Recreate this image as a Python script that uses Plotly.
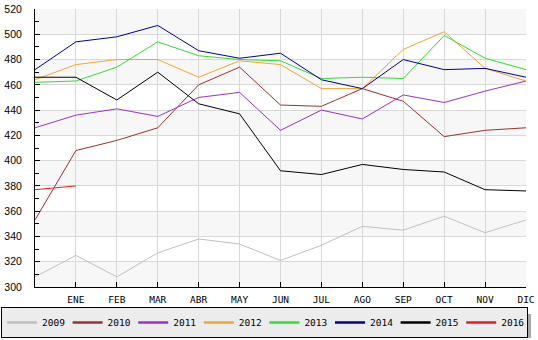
import plotly.graph_objects as go

months = ["", "ENE", "FEB", "MAR", "ABR", "MAY", "JUN", "JUL", "AGO", "SEP", "OCT", "NOV", "DIC"]
years = ["2009", "2010", "2011", "2012", "2013", "2014", "2015", "2016"]

v2009 = [308, 325, 308, 327, 338, 334, 321, 333, 348, 345, 356, 343, 353]
v2010 = [353, 408, 416, 426, 460, 474, 444, 443, 457, 447, 419, 424, 426]
v2011 = [426, 436, 441, 435, 450, 454, 424, 440, 433, 452, 446, 455, 463]
v2012 = [464, 476, 480, 480, 466, 479, 476, 457, 457, 488, 502, 473, 463]
v2013 = [462, 463, 474, 494, 483, 480, 479, 465, 466, 465, 499, 481, 472]
v2014 = [472, 494, 498, 507, 487, 481, 485, 464, 457, 480, 472, 473, 466]
v2015 = [466, 466, 448, 470, 445, 437, 392, 389, 397, 393, 391, 377, 376]
v2016 = [377, 380, None, None, None, None, None, None, None, None, None, None, None]

series = [v2009, v2010, v2011, v2012, v2013, v2014, v2015, v2016]
colors = ["#c0c0c0", "#993333", "#9933cc", "#f0a830", "#33dd33", "#000099", "#000000", "#e02020"]

W, H = 538, 340
ML, MR, MT, MB = 35, 12, 9, 53
PW, PH = W - ML - MR, H - MT - MB

def px2x(px):
    return (px - ML) / PW

def px2y(py):
    return (H - MB - py) / PH

fig = go.Figure()
xs = list(range(len(months)))
for name, vals, col in zip(years, series, colors):
    fig.add_trace(go.Scatter(x=xs, y=vals, mode="lines", name=name, legendgroup=name,
                             showlegend=False, line=dict(color=col, width=1)))
# legend entries (thicker swatches, same groups)
for name, col in zip(years, colors):
    fig.add_trace(go.Scatter(x=[None], y=[None], mode="lines", name=name, legendgroup=name,
                             showlegend=True, hoverinfo="skip", line=dict(color=col, width=2.5)))

shapes = []
# alternating background bands
for lo in range(300, 520, 40):
    shapes.append(dict(type="rect", xref="paper", yref="y", x0=0, x1=1, y0=lo, y1=lo + 20,
                       fillcolor="#f7f7f7", line=dict(width=0), layer="below"))
# legend shadow
shapes.append(dict(type="rect", xref="paper", yref="paper",
                   x0=px2x(4), x1=px2x(531), y0=px2y(338), y1=px2y(314),
                   fillcolor="#a8a8a8", line=dict(width=0), layer="above"))

fig.update_layout(
    width=W, height=H,
    margin=dict(l=ML, r=MR, t=MT, b=MB, pad=0, autoexpand=False),
    paper_bgcolor="white", plot_bgcolor="white",
    shapes=shapes,
    showlegend=True,
    legend=dict(orientation="h", x=px2x(1), xanchor="left", y=px2y(307), yanchor="top",
                bgcolor="#ececec", bordercolor="black", borderwidth=1,
                font=dict(family="DejaVu Sans Mono", size=9.5, color="black"),
                entrywidth=20.6, traceorder="normal"),
    xaxis=dict(range=[0, 12], tickmode="array", tickvals=xs[1:], ticktext=months[1:],
               showgrid=True, gridcolor="#d8d8d8", gridwidth=1, zeroline=False,
               showline=True, linecolor="black", linewidth=1,
               ticks="inside", ticklen=5, tickcolor="black",
               tickfont=dict(family="DejaVu Sans Mono", size=9.5, color="black"),
               ticklabelstandoff=4, fixedrange=True),
    yaxis=dict(range=[300, 520], tickmode="linear", tick0=300, dtick=20,
               showgrid=True, gridcolor="#d8d8d8", gridwidth=1, zeroline=False,
               showline=True, linecolor="black", linewidth=1,
               ticks="inside", ticklen=5, tickcolor="black",
               minor=dict(dtick=10, ticks="inside", ticklen=4, tickcolor="black", showgrid=False),
               tickfont=dict(family="Liberation Sans", size=10.5, color="black"),
               ticklabelstandoff=10, fixedrange=True),
)

fig.write_html("out.html")
